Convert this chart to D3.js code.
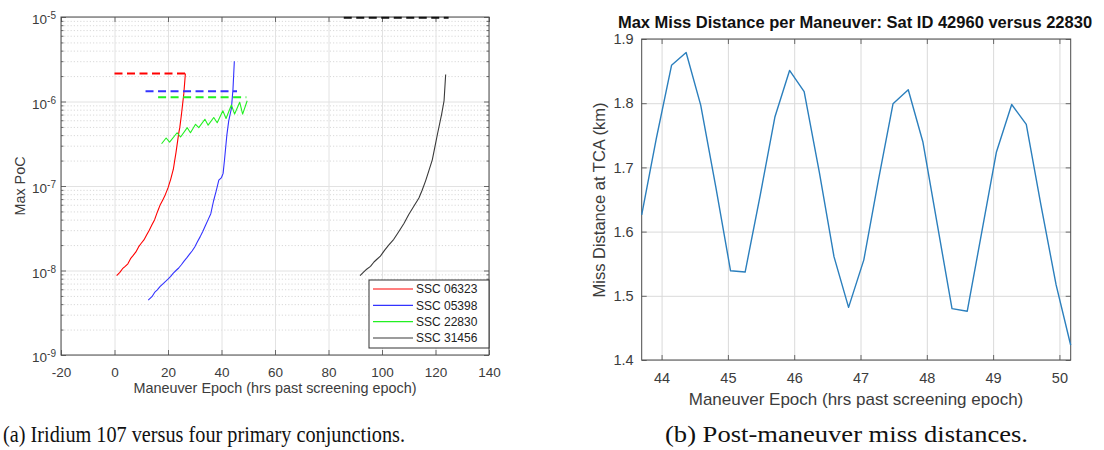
<!DOCTYPE html>
<html><head><meta charset="utf-8">
<script src="https://cdn.jsdelivr.net/npm/d3@7"></script>
<style>
body{margin:0;background:#fff;}
svg{display:block;font-family:"Liberation Sans",Arial,sans-serif;}
</style></head><body>
<svg id="c" width="1104" height="450"></svg>
<script>
// ---------- Left chart data ----------
const epochTicks = [-20, 0, 20, 40, 60, 80, 100, 120, 140];
const pocTicks = [1e-9, 1e-8, 1e-7, 1e-6, 1e-5];
const pocTickExp = ['-9', '-8', '-7', '-6', '-5'];
const seriesNames = ['SSC 06323', 'SSC 05398', 'SSC 22830', 'SSC 31456'];
const seriesColors = ['#ff0000', '#3333ff', '#22f022', '#3a3a3a'];

const redEpoch = [0.8, 2, 3, 4, 5, 6, 7, 8, 9, 10, 11, 12, 13, 14, 15, 16, 17, 18, 19, 20, 21, 22, 22.5, 23, 24, 24.4, 25, 25.9, 26.3, 26.5];
const redPoC = [8.7e-9, 9.5e-9, 1.05e-8, 1.12e-8, 1.2e-8, 1.38e-8, 1.51e-8, 1.66e-8, 1.9e-8, 2.1e-8, 2.3e-8, 2.63e-8, 3.0e-8, 3.47e-8, 4.0e-8, 4.9e-8, 5.9e-8, 6.8e-8, 7.9e-8, 9.5e-8, 1.2e-7, 1.58e-7, 2.0e-7, 2.5e-7, 4.2e-7, 4.9e-7, 6.9e-7, 1.23e-6, 1.78e-6, 2.14e-6];

const blueEpoch = [12.6, 14, 15, 16, 17, 18, 19, 20, 21, 22, 23, 24, 25, 26, 27, 28, 29, 30, 31, 32, 33, 34, 35, 36, 37, 38, 39, 40, 40.6, 41.1, 42, 42.7, 43.7, 44.3, 44.8];
const bluePoC = [4.47e-9, 4.9e-9, 5.5e-9, 5.9e-9, 6.45e-9, 6.9e-9, 7.4e-9, 7.9e-9, 8.5e-9, 9.3e-9, 1.0e-8, 1.07e-8, 1.17e-8, 1.29e-8, 1.41e-8, 1.55e-8, 1.7e-8, 1.9e-8, 2.19e-8, 2.5e-8, 2.9e-8, 3.4e-8, 4.0e-8, 4.7e-8, 6.6e-8, 8.7e-8, 1.17e-7, 1.26e-7, 1.41e-7, 2.0e-7, 4.0e-7, 5.9e-7, 8.3e-7, 1.41e-6, 3.0e-6];

const greenEpoch = [17.6, 19.3, 20.6, 23.4, 24.7, 27.2, 28.4, 30.3, 31.5, 33.8, 35.0, 37.1, 38.4, 40.5, 41.7, 43.7, 44.9, 46.8, 47.9, 49.6];
const greenPoC = [3.16e-7, 3.7e-7, 3.3e-7, 4.27e-7, 3.8e-7, 4.9e-7, 4.27e-7, 5.37e-7, 4.9e-7, 6.17e-7, 5.25e-7, 6.46e-7, 5.6e-7, 7.76e-7, 6.3e-7, 9.1e-7, 7.1e-7, 9.8e-7, 7.1e-7, 1.02e-6];

const blackEpoch = [91.8, 93, 94, 95.7, 97, 98, 99.4, 101, 102.5, 104.4, 106, 108.2, 110, 111.9, 113.8, 115, 116.3, 117.5, 118.8, 120, 120.7, 122.3, 123.2, 123.8];
const blackPoC = [8.7e-9, 9.5e-9, 1.02e-8, 1.12e-8, 1.26e-8, 1.35e-8, 1.48e-8, 1.74e-8, 2.0e-8, 2.34e-8, 2.8e-8, 3.6e-8, 4.6e-8, 5.75e-8, 7.2e-8, 8.9e-8, 1.15e-7, 1.51e-7, 2.04e-7, 3.16e-7, 4.07e-7, 7.1e-7, 1.02e-6, 2.09e-6];

// dashed reference levels (one per series)
const refStart = [0, 11.6, 16.3, 85.7];
const refEnd = [26.5, 45.8, 49.3, 124.9];
const refPoC = [2.14e-6, 1.32e-6, 1.12e-6, 9.8e-6];

// ---------- Right chart data ----------
const missTicksX = [44, 45, 46, 47, 48, 49, 50];
const missTicksY = [1.4, 1.5, 1.6, 1.7, 1.8, 1.9];
const missEpoch = [43.70, 43.92, 44.15, 44.37, 44.59, 44.82, 45.04, 45.26, 45.49, 45.71, 45.93, 46.15, 46.38, 46.60, 46.82, 47.05, 47.27, 47.49, 47.72, 47.94, 48.16, 48.38, 48.61, 48.83, 49.05, 49.28, 49.50, 49.72, 49.95, 50.17];
const missDist = [1.626, 1.745, 1.859, 1.879, 1.797, 1.668, 1.539, 1.537, 1.658, 1.779, 1.851, 1.818, 1.692, 1.561, 1.482, 1.556, 1.680, 1.799, 1.821, 1.740, 1.610, 1.480, 1.476, 1.600, 1.724, 1.798, 1.767, 1.642, 1.517, 1.423];

const captionA = '(a) Iridium 107 versus four primary conjunctions.';
const captionB = '(b) Post-maneuver miss distances.';

// ---------- Drawing ----------
const svg = d3.select('#c');
const axisColor = '#4a4a4a';
const textColor = '#3c3c3c';
const gridColor = '#e2e2e2';

function styleAxis(g) {
  g.select('.domain').remove();
  g.selectAll('.tick line').attr('stroke', axisColor).attr('stroke-width', 0.8);
  return g;
}

// ===== Left chart =====
const L = {l: 61, r: 489, t: 17, b: 355};
const xL = d3.scaleLinear().domain([-20, 140]).range([L.l, L.r]);
const yL = d3.scaleLog().domain([1e-9, 1e-5]).range([L.b, L.t]);
const minorPoC = [];
pocTicks.slice(0, -1).forEach(d => { for (let m = 2; m <= 9; m++) minorPoC.push(d * m); });

const gL = svg.append('g');
// minor grid
gL.append('g').attr('transform', `translate(${L.l},0)`)
  .call(d3.axisLeft(yL).tickValues(minorPoC).tickSize(-(L.r - L.l)).tickFormat(''))
  .call(g => g.select('.domain').remove())
  .selectAll('.tick line').attr('stroke', '#cfcfcf').attr('stroke-width', 0.8).attr('stroke-dasharray', '1.2,2');
// major grid
gL.append('g').attr('transform', `translate(${L.l},0)`)
  .call(d3.axisLeft(yL).tickValues(pocTicks).tickSize(-(L.r - L.l)).tickFormat(''))
  .call(g => g.select('.domain').remove())
  .selectAll('.tick line').attr('stroke', gridColor).attr('stroke-width', 1);
gL.append('g').attr('transform', `translate(0,${L.b})`)
  .call(d3.axisBottom(xL).tickValues(epochTicks).tickSize(-(L.b - L.t)).tickFormat(''))
  .call(g => g.select('.domain').remove())
  .selectAll('.tick line').attr('stroke', gridColor).attr('stroke-width', 1);

// ticks (inward, all four sides)
gL.append('g').attr('transform', `translate(0,${L.b})`)
  .call(d3.axisBottom(xL).tickValues(epochTicks).tickSizeInner(-5).tickSizeOuter(0).tickPadding(12).tickFormat(d3.format('d')))
  .call(styleAxis)
  .selectAll('text').attr('font-size', 13.5).attr('fill', textColor).text(d => d < 0 ? '-' + Math.abs(d) : d);
gL.append('g').attr('transform', `translate(0,${L.t})`)
  .call(d3.axisTop(xL).tickValues(epochTicks).tickSize(-5).tickFormat('')).call(styleAxis);
gL.append('g').attr('transform', `translate(${L.l},0)`)
  .call(d3.axisLeft(yL).tickValues(pocTicks).tickSize(-5).tickFormat('')).call(styleAxis);
gL.append('g').attr('transform', `translate(${L.l},0)`)
  .call(d3.axisLeft(yL).tickValues(minorPoC).tickSize(-2.5).tickFormat('')).call(styleAxis);
gL.append('g').attr('transform', `translate(${L.r},0)`)
  .call(d3.axisLeft(yL).tickValues(pocTicks).tickSize(5).tickFormat('')).call(styleAxis);
gL.append('g').attr('transform', `translate(${L.r},0)`)
  .call(d3.axisLeft(yL).tickValues(minorPoC).tickSize(2.5).tickFormat('')).call(styleAxis);

// y tick labels 10^n
pocTicks.forEach((v, i) => {
  const t = gL.append('text').attr('x', L.l - 5).attr('y', yL(v) + 7)
    .attr('text-anchor', 'end').attr('fill', textColor).attr('font-size', 13.5);
  t.append('tspan').text('10');
  t.append('tspan').attr('dy', -5).attr('font-size', 10).text(pocTickExp[i]);
});

// box
gL.append('rect').attr('x', L.l).attr('y', L.t).attr('width', L.r - L.l).attr('height', L.b - L.t)
  .attr('fill', 'none').attr('stroke', axisColor).attr('stroke-width', 1);

// series
const lineL = d3.line().x(d => xL(d[0])).y(d => yL(d[1]));
const seriesData = [
  d3.zip(redEpoch, redPoC),
  d3.zip(blueEpoch, bluePoC),
  d3.zip(greenEpoch, greenPoC),
  d3.zip(blackEpoch, blackPoC)
];
seriesData.forEach((data, i) => {
  gL.append('path').attr('d', lineL(data)).attr('fill', 'none')
    .attr('stroke', seriesColors[i]).attr('stroke-width', 1.1).attr('stroke-linejoin', 'round');
});
refPoC.forEach((v, i) => {
  gL.append('line').attr('x1', xL(refStart[i])).attr('x2', xL(refEnd[i]))
    .attr('y1', yL(v)).attr('y2', yL(v))
    .attr('stroke', i === 3 ? '#111' : seriesColors[i]).attr('stroke-width', 2)
    .attr('stroke-dasharray', '8,4.5');
});

// legend
const leg = gL.append('g');
leg.append('rect').attr('x', 369).attr('y', 280).attr('width', 120).attr('height', 68)
  .attr('fill', '#fff').attr('stroke', '#333').attr('stroke-width', 1);
const legY = d3.scalePoint().domain(seriesNames).range([289, 338]);
seriesNames.forEach((n, i) => {
  leg.append('line').attr('x1', 373).attr('x2', 413).attr('y1', legY(n)).attr('y2', legY(n))
    .attr('stroke', seriesColors[i]).attr('stroke-width', 1.2);
  leg.append('text').attr('x', 416).attr('y', legY(n) + 4.3).attr('font-size', 12)
    .attr('fill', '#222').text(n);
});

// axis labels
gL.append('text').attr('x', 275).attr('y', 393).attr('text-anchor', 'middle')
  .attr('font-size', 14.4).attr('fill', textColor).text('Maneuver Epoch (hrs past screening epoch)');
gL.append('text').attr('transform', 'translate(25,186) rotate(-90)').attr('text-anchor', 'middle')
  .attr('font-size', 14.4).attr('fill', textColor).text('Max PoC');

// ===== Right chart =====
const R = {l: 641.7, r: 1070.7, t: 39, b: 360};
const xR = d3.scaleLinear().domain(d3.extent(missEpoch)).range([R.l, R.r]);
const yR = d3.scaleLinear().domain([1.4, 1.9]).range([R.b, R.t]);
const gR = svg.append('g');

gR.append('g').attr('transform', `translate(${R.l},0)`)
  .call(d3.axisLeft(yR).tickValues(missTicksY).tickSize(-(R.r - R.l)).tickFormat(''))
  .call(g => g.select('.domain').remove())
  .selectAll('.tick line').attr('stroke', '#dadada').attr('stroke-width', 1);
gR.append('g').attr('transform', `translate(0,${R.b})`)
  .call(d3.axisBottom(xR).tickValues(missTicksX).tickSize(-(R.b - R.t)).tickFormat(''))
  .call(g => g.select('.domain').remove())
  .selectAll('.tick line').attr('stroke', '#dadada').attr('stroke-width', 1);

gR.append('g').attr('transform', `translate(0,${R.b})`)
  .call(d3.axisBottom(xR).tickValues(missTicksX).tickSizeInner(-5).tickSizeOuter(0).tickPadding(13).tickFormat(d3.format('d')))
  .call(styleAxis)
  .selectAll('text').attr('font-size', 14.5).attr('fill', textColor);
gR.append('g').attr('transform', `translate(0,${R.t})`)
  .call(d3.axisTop(xR).tickValues(missTicksX).tickSize(-5).tickFormat('')).call(styleAxis);
gR.append('g').attr('transform', `translate(${R.l},0)`)
  .call(d3.axisLeft(yR).tickValues(missTicksY).tickSizeInner(-5).tickSizeOuter(0).tickPadding(8).tickFormat(d3.format('.1f')))
  .call(styleAxis)
  .selectAll('text').attr('font-size', 14.5).attr('fill', textColor);
gR.append('g').attr('transform', `translate(${R.r},0)`)
  .call(d3.axisLeft(yR).tickValues(missTicksY).tickSize(5).tickFormat('')).call(styleAxis);

gR.append('rect').attr('x', R.l).attr('y', R.t).attr('width', R.r - R.l).attr('height', R.b - R.t)
  .attr('fill', 'none').attr('stroke', axisColor).attr('stroke-width', 1);

gR.append('path').attr('d', d3.line().x((d, i) => xR(missEpoch[i])).y(d => yR(d))(missDist))
  .attr('fill', 'none').attr('stroke', '#2b7fbd').attr('stroke-width', 1.4).attr('stroke-linejoin', 'round');

gR.append('text').attr('x', 855).attr('y', 28).attr('text-anchor', 'middle')
  .attr('font-size', 16.5).attr('font-weight', 'bold').attr('fill', '#111')
  .text('Max Miss Distance per Maneuver: Sat ID 42960 versus 22830');
gR.append('text').attr('x', 856).attr('y', 405).attr('text-anchor', 'middle')
  .attr('font-size', 17).attr('fill', textColor).text('Maneuver Epoch (hrs past screening epoch)');
gR.append('text').attr('transform', 'translate(605,200) rotate(-90)').attr('text-anchor', 'middle')
  .attr('font-size', 16.5).attr('fill', textColor).text('Miss Distance at TCA (km)');

// ===== Captions =====
svg.append('text').attr('x', 3).attr('y', 442).attr('font-family', '"Liberation Serif", "Times New Roman", serif')
  .attr('font-size', 24).attr('fill', '#111').attr('textLength', 402).attr('lengthAdjust', 'spacingAndGlyphs').text(captionA);
svg.append('text').attr('x', 665).attr('y', 442).attr('font-family', '"Liberation Serif", "Times New Roman", serif')
  .attr('font-size', 24).attr('fill', '#111').attr('textLength', 363).attr('lengthAdjust', 'spacingAndGlyphs').text(captionB);
</script>
</body></html>
